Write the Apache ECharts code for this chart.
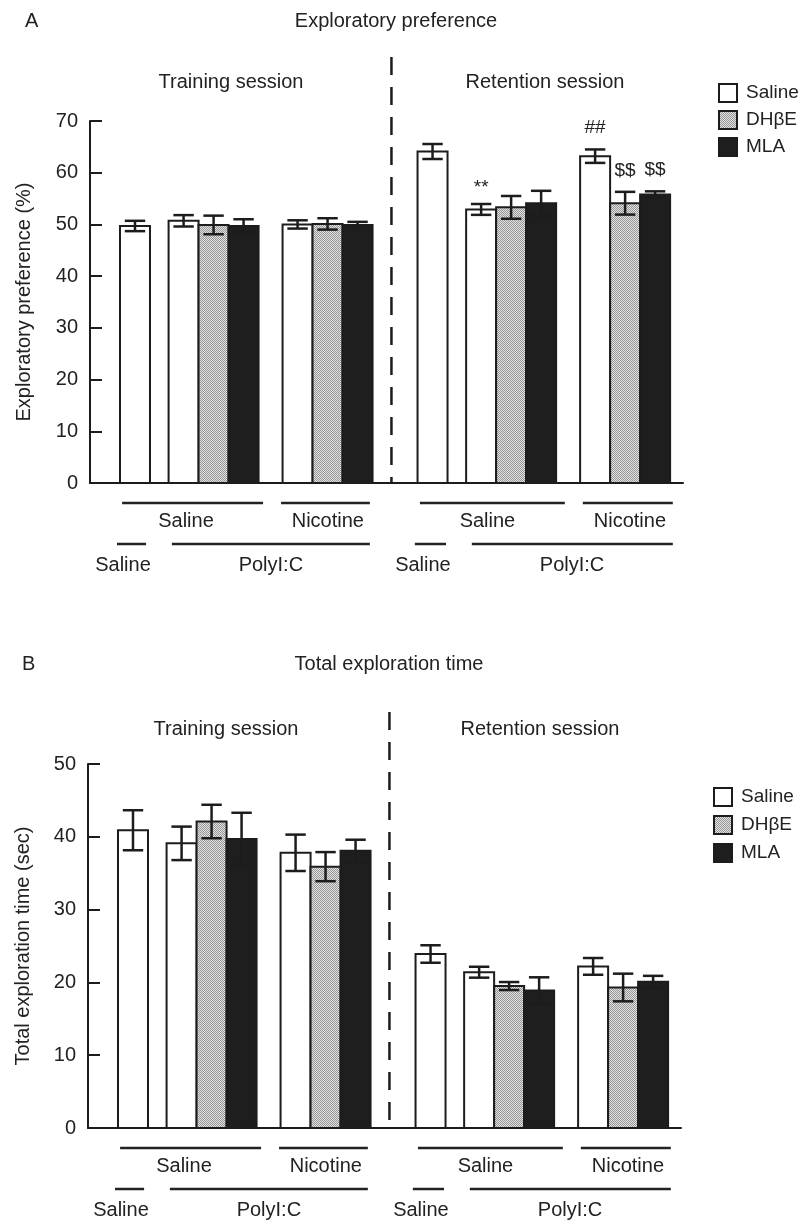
<!DOCTYPE html>
<html>
<head>
<meta charset="utf-8">
<script src="https://cdn.jsdelivr.net/npm/echarts@6/dist/echarts.min.js"></script>
<style>html,body{margin:0;padding:0;background:#fff}#c{width:805px;height:1224px}</style>
</head>
<body>
<div id="c"></div>
<script>
// ---------------- DATA ----------------
const treatments = ['Saline', 'DHβE', 'MLA'];
const barTreatment = ['Saline', 'Saline', 'DHβE', 'MLA', 'Saline', 'DHβE', 'MLA'];
const barGroup = [0, 1, 1, 1, 2, 2, 2];      // 0 = Saline/Saline, 1 = PolyI:C/Saline, 2 = PolyI:C/Nicotine
const barInGroup = [0, 0, 1, 2, 0, 1, 2];

// Panel A: Exploratory preference (%)
const prefTrainMean = [49.7, 50.7, 49.9, 49.7, 50.0, 50.1, 49.9];
const prefTrainSem  = [1.0, 1.1, 1.8, 1.3, 0.8, 1.1, 0.6];
const prefRetMean   = [64.1, 52.9, 53.3, 54.1, 63.2, 54.1, 55.8];
const prefRetSem    = [1.45, 1.05, 2.2, 2.4, 1.3, 2.2, 0.6];
const prefRetMarks  = ['', '**', '', '', '##', '$$', '$$'];
const prefTicks = { min: 0, max: 70, interval: 10 };

// Panel B: Total exploration time (sec)
const timeTrainMean = [40.9, 39.1, 42.1, 39.7, 37.8, 35.9, 38.1];
const timeTrainSem  = [2.75, 2.3, 2.3, 3.6, 2.5, 2.0, 1.5];
const timeRetMean   = [23.9, 21.4, 19.5, 18.9, 22.2, 19.3, 20.1];
const timeRetSem    = [1.2, 0.75, 0.55, 1.8, 1.15, 1.9, 0.8];
const timeTicks = { min: 0, max: 50, interval: 10 };

const row1Labels = ['Saline', 'Nicotine', 'Saline', 'Nicotine'];
const row2Labels = ['Saline', 'PolyI:C', 'Saline', 'PolyI:C'];

// ---------------- LAYOUT (x in bar-width units) ----------------
const X_MAX = 19.77;
const SESSION_START = [1.5, 11.42];
const GROUP_OFFSET = [0, 1.62, 5.42];
const DIVIDER_X = 10.05;
const row1Spans = [[1.07, 5.77], [6.37, 9.33], [11.0, 15.83], [16.43, 19.43]];
const row1Centers = [3.2, 7.93, 13.25, 18.0];
const row2Spans = [[0.9, 1.87], [2.73, 9.33], [10.83, 11.87], [12.73, 19.43]];
const row2Centers = [1.1, 6.03, 11.1, 16.07];

const FONT = "'Liberation Sans', Arial, Helvetica, sans-serif";
const INK = '#1c1c1c';
const TXT = '#222';

function makePattern() {
  const c = document.createElement('canvas');
  c.width = 2; c.height = 2;
  const g = c.getContext('2d');
  g.fillStyle = '#e2e2e2'; g.fillRect(0, 0, 2, 2);
  g.fillStyle = '#969696'; g.fillRect(0, 0, 1, 1); g.fillRect(1, 1, 1, 1);
  return { image: c, repeat: 'repeat' };
}
const fills = { 'Saline': '#ffffff', 'DHβE': makePattern(), 'MLA': '#1e1e1e' };

function barX(session, i) {
  return SESSION_START[session] + GROUP_OFFSET[barGroup[i]] + barInGroup[i];
}

function buildItems(trainMean, trainSem, retMean, retSem, retMarks) {
  const items = [];
  for (let i = 0; i < 7; i++) {
    items.push({ t: barTreatment[i], value: [barX(0, i), trainMean[i], trainSem[i]], mark: '' });
  }
  for (let i = 0; i < 7; i++) {
    items.push({ t: barTreatment[i], value: [barX(1, i), retMean[i], retSem[i]], mark: retMarks ? retMarks[i] : '' });
  }
  return items;
}

function barSeries(panel, items, treat) {
  const list = items.filter(d => d.t === treat);
  return {
    type: 'custom', name: treat, xAxisIndex: panel, yAxisIndex: panel,
    clip: false,
    itemStyle: { color: fills[treat], borderColor: INK, borderWidth: 2 },
    data: list.map(d => ({ value: d.value })),
    renderItem: function (params, api) {
      const x = api.value(0), m = api.value(1), e = api.value(2);
      const pl = api.coord([x - 0.5, 0]);
      const pr = api.coord([x + 0.5, m]);
      const top = api.coord([x, m + e]);
      const bot = api.coord([x, m - e]);
      const cap = api.size([0.34, 0])[0];
      const mark = list[params.dataIndex].mark;
      const ch = [
        { type: 'rect', shape: { x: pl[0], y: pr[1], width: pr[0] - pl[0], height: pl[1] - pr[1] },
          style: { fill: fills[treat], stroke: INK, lineWidth: 2 } },
        { type: 'line', shape: { x1: top[0], y1: top[1], x2: bot[0], y2: bot[1] }, style: { stroke: INK, lineWidth: 2.5 } },
        { type: 'line', shape: { x1: top[0] - cap, y1: top[1], x2: top[0] + cap, y2: top[1] }, style: { stroke: INK, lineWidth: 2.5 } },
        { type: 'line', shape: { x1: bot[0] - cap, y1: bot[1], x2: bot[0] + cap, y2: bot[1] }, style: { stroke: INK, lineWidth: 2.5 } }
      ];
      if (mark) {
        const dy = mark.indexOf('*') >= 0 ? 5 : 0;
        ch.push({ type: 'text', x: top[0], y: top[1] - 12 + dy,
          style: { text: mark, fontSize: 19, fontFamily: FONT, fill: TXT, align: 'center', verticalAlign: 'bottom' } });
      }
      return { type: 'group', children: ch };
    }
  };
}

function annotSeries(panel, yMax, dividerExtra) {
  return {
    type: 'custom', name: 'annot' + panel, xAxisIndex: panel, yAxisIndex: panel, clip: false, silent: true,
    data: [[0, 0]],
    renderItem: function (params, api) {
      const y0 = api.coord([0, 0])[1];
      const yTop = api.coord([0, yMax])[1];
      const ch = [];
      const dx = api.coord([DIVIDER_X, 0])[0];
      ch.push({ type: 'line', shape: { x1: dx, y1: yTop - dividerExtra, x2: dx, y2: y0 },
        style: { stroke: INK, lineWidth: 2.5, lineDash: [18, 12] } });
      row1Spans.forEach(s => {
        const a = api.coord([s[0], 0])[0], b = api.coord([s[1], 0])[0];
        ch.push({ type: 'line', shape: { x1: a, y1: y0 + 20, x2: b, y2: y0 + 20 }, style: { stroke: TXT, lineWidth: 2.5 } });
      });
      row2Spans.forEach(s => {
        const a = api.coord([s[0], 0])[0], b = api.coord([s[1], 0])[0];
        ch.push({ type: 'line', shape: { x1: a, y1: y0 + 61, x2: b, y2: y0 + 61 }, style: { stroke: TXT, lineWidth: 2.5 } });
      });
      row1Labels.forEach((t, i) => {
        ch.push({ type: 'text', x: api.coord([row1Centers[i], 0])[0], y: y0 + 38,
          style: { text: t, fontSize: 20, fontFamily: FONT, fill: TXT, align: 'center', verticalAlign: 'middle' } });
      });
      row2Labels.forEach((t, i) => {
        ch.push({ type: 'text', x: api.coord([row2Centers[i], 0])[0], y: y0 + 82,
          style: { text: t, fontSize: 20, fontFamily: FONT, fill: TXT, align: 'center', verticalAlign: 'middle' } });
      });
      return { type: 'group', children: ch };
    }
  };
}

const itemsA = buildItems(prefTrainMean, prefTrainSem, prefRetMean, prefRetSem, prefRetMarks);
const itemsB = buildItems(timeTrainMean, timeTrainSem, timeRetMean, timeRetSem, null);

function yAxisCfg(panel, ticks, name, gap) {
  return {
    gridIndex: panel, type: 'value', min: ticks.min, max: ticks.max, interval: ticks.interval,
    axisLine: { show: true, lineStyle: { color: INK, width: 2 } },
    axisTick: { show: true, inside: true, length: 12, lineStyle: { color: INK, width: 2 } },
    axisLabel: { fontSize: 20, fontFamily: FONT, color: TXT, margin: 12 },
    splitLine: { show: false },
    name: name, nameLocation: 'middle', nameGap: gap, nameRotate: 90,
    nameTextStyle: { fontSize: 20, fontFamily: FONT, color: TXT }
  };
}
function xAxisCfg(panel) {
  return {
    gridIndex: panel, type: 'value', min: 0, max: X_MAX,
    axisLine: { show: true, onZero: false, lineStyle: { color: INK, width: 2 } },
    axisTick: { show: false }, axisLabel: { show: false }, splitLine: { show: false }
  };
}
function legendCfg(left, top, gap) {
  return {
    left: left, top: top, orient: 'vertical', itemWidth: 18, itemHeight: 18, itemGap: gap,
    selectedMode: false, icon: 'rect',
    textStyle: { fontSize: 19, fontFamily: FONT, color: TXT, lineHeight: 20, padding: [0, 0, 0, 4] },
    data: treatments.map(t => ({ name: t, icon: 'rect', itemStyle: { color: fills[t], borderColor: INK, borderWidth: 2 } }))
  };
}
function txt(x, y, s, align) {
  return { type: 'text', x: x, y: y, style: { text: s, fontSize: 20, fontFamily: FONT, fill: TXT, align: align || 'center', verticalAlign: 'middle' } };
}

const chart = echarts.init(document.getElementById('c'), null, { renderer: 'canvas' });
const series = [];
treatments.forEach(t => series.push(barSeries(0, itemsA, t)));
treatments.forEach(t => series.push(barSeries(1, itemsB, t)));
series.push(annotSeries(0, prefTicks.max, 64));
series.push(annotSeries(1, timeTicks.max, 52));

chart.setOption({
  animation: false,
  backgroundColor: '#fff',
  grid: [
    { left: 90, top: 121, width: 593, height: 362, containLabel: false, outerBoundsMode: 'none' },
    { left: 88, top: 764, width: 593, height: 364, containLabel: false, outerBoundsMode: 'none' }
  ],
  xAxis: [xAxisCfg(0), xAxisCfg(1)],
  yAxis: [yAxisCfg(0, prefTicks, 'Exploratory preference (%)', 56), yAxisCfg(1, timeTicks, 'Total exploration time (sec)', 55)],
  legend: [legendCfg(713, 78, 7), legendCfg(708, 782, 8)],
  graphic: [
    txt(25, 21, 'A', 'left'),
    txt(396, 21, 'Exploratory preference'),
    txt(231, 82, 'Training session'),
    txt(545, 82, 'Retention session'),
    txt(22, 664, 'B', 'left'),
    txt(389, 664, 'Total exploration time'),
    txt(226, 729, 'Training session'),
    txt(540, 729, 'Retention session')
  ],
  series: series
});
</script>
</body>
</html>
